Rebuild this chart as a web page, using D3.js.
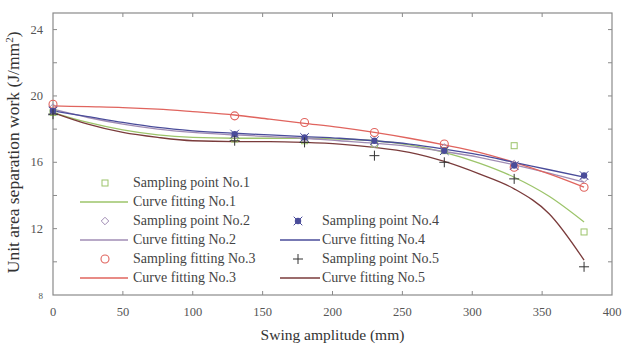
<!DOCTYPE html>
<html>
<head>
<meta charset="utf-8">
<script src="https://cdn.jsdelivr.net/npm/d3@7"></script>
<style>
  body { margin: 0; background: #fff; }
  svg { font-family: "Liberation Serif", "Times New Roman", serif; }
  .frame { fill: none; stroke: #8a8a8a; stroke-width: 1.2; }
  .tick-lbl { fill: #555; font-size: 12.5px; }
  .title { fill: #333; font-size: 15.5px; }
  .leg { fill: #444; font-size: 14px; }
</style>
</head>
<body>
<svg id="chart" width="623" height="347"></svg>
<script>
// measured amplitudes of the sampling points (mm)
var sampleX = [0, 130, 180, 230, 280, 330, 380];
var point1 = [19.0, 17.4, 17.3, 17.1, 16.7, 17.0, 11.8];
var point2 = [19.3, 17.6, 17.4, 17.1, 16.9, 15.9, 15.0];
var point3 = [19.5, 18.8, 18.4, 17.8, 17.1, 15.7, 14.5];
var point4 = [19.1, 17.7, 17.5, 17.3, 16.7, 15.8, 15.2];
var point5 = [18.9, 17.3, 17.2, 16.4, 16.0, 15.0, 9.7];

// fitted curves
var fitX = [0, 25, 50, 75, 100, 130, 155, 180, 205, 230, 255, 280, 305, 330, 355, 380];
var fit1 = [19.0, 18.4, 17.95, 17.65, 17.5, 17.45, 17.45, 17.45, 17.4, 17.3, 17.05, 16.6, 15.95, 15.1, 13.95, 12.4];
var fit2 = [19.2, 18.7, 18.3, 18.0, 17.8, 17.65, 17.55, 17.45, 17.3, 17.15, 16.95, 16.65, 16.3, 15.85, 15.35, 14.8];
var fit3 = [19.4, 19.35, 19.3, 19.2, 19.05, 18.85, 18.6, 18.35, 18.1, 17.8, 17.45, 17.05, 16.6, 16.0, 15.3, 14.5];
var fit4 = [19.1, 18.75, 18.4, 18.1, 17.9, 17.75, 17.65, 17.55, 17.45, 17.3, 17.1, 16.8, 16.45, 16.0, 15.55, 15.1];
var fit5 = [19.0, 18.3, 17.8, 17.5, 17.3, 17.25, 17.25, 17.2, 17.1, 16.9, 16.6, 16.05, 15.3, 14.4, 12.9, 10.1];

var xTicks = [0, 50, 100, 150, 200, 250, 300, 350, 400];
var yTicks = [8, 12, 16, 20, 24];
var yMinor = [10, 14, 18, 22];

var series = [
  {pt: point1, fit: fit1, color: "#9cc46a", ptName: "Sampling point No.1", fitName: "Curve fitting No.1", sym: "square"},
  {pt: point2, fit: fit2, color: "#a08cb4", ptName: "Sampling point No.2", fitName: "Curve fitting No.2", sym: "diamond"},
  {pt: point3, fit: fit3, color: "#e0645e", ptName: "Sampling fitting No.3", fitName: "Curve fitting No.3", sym: "circle"},
  {pt: point4, fit: fit4, color: "#4a4c9a", ptName: "Sampling point No.4", fitName: "Curve fitting No.4", sym: "star"},
  {pt: point5, fit: fit5, color: "#7a3b3b", ptName: "Sampling point No.5", fitName: "Curve fitting No.5", sym: "plus"}
];

var svg = d3.select("#chart");
var margin = {top: 13, right: 11, bottom: 52, left: 53};
var W = 623, H = 347;

var x = d3.scaleLinear().domain([0, 400]).range([margin.left, W - margin.right]);
var y = d3.scaleLinear().domain([8, 25]).range([H - margin.bottom, margin.top]);

// inward ticks on all four sides
var tk = svg.append("g").attr("stroke", "#8a8a8a").attr("stroke-width", 1);
xTicks.slice(1, -1).forEach(function(v) {
  tk.append("line").attr("x1", x(v)).attr("x2", x(v)).attr("y1", y(8)).attr("y2", y(8) - 4);
  tk.append("line").attr("x1", x(v)).attr("x2", x(v)).attr("y1", y(25)).attr("y2", y(25) + 4);
});
yTicks.concat(yMinor).forEach(function(v) {
  if (v === 8) return;
  tk.append("line").attr("x1", x(0)).attr("x2", x(0) + 4).attr("y1", y(v)).attr("y2", y(v));
  tk.append("line").attr("x1", x(400)).attr("x2", x(400) - 4).attr("y1", y(v)).attr("y2", y(v));
});

svg.append("rect").attr("class", "frame")
  .attr("x", x(0)).attr("y", y(25))
  .attr("width", x(400) - x(0)).attr("height", y(8) - y(25));

// tick labels
svg.append("g").selectAll("text").data(xTicks).enter().append("text")
  .attr("class", "tick-lbl").attr("text-anchor", "middle")
  .attr("x", function(d) { return x(d); }).attr("y", y(8) + 21)
  .text(function(d) { return d; });
svg.append("g").selectAll("text").data(yTicks).enter().append("text")
  .attr("class", "tick-lbl").attr("text-anchor", "end")
  .attr("x", x(0) - 10).attr("y", function(d) { return y(d) + 4; })
  .style("font-size", function(d) { return d === 8 ? "9px" : null; })
  .text(function(d) { return d; });

// axis titles
svg.append("text").attr("class", "title").attr("text-anchor", "middle")
  .attr("x", x(200)).attr("y", 340).text("Swing amplitude (mm)");
var yt = svg.append("text").attr("class", "title").attr("text-anchor", "middle")
  .style("font-size", "17.5px")
  .attr("transform", "translate(19," + y(16.6) + ") rotate(-90)");
yt.append("tspan").text("Unit area separation work (J/mm");
yt.append("tspan").attr("dy", -6).style("font-size", "11px").text("2");
yt.append("tspan").attr("dy", 6).text(")");

// fitted curves
var line = d3.line()
  .x(function(d) { return x(d[0]); })
  .y(function(d) { return y(d[1]); })
  .curve(d3.curveMonotoneX);

series.forEach(function(s) {
  svg.append("path")
    .datum(fitX.map(function(v, i) { return [v, s.fit[i]]; }))
    .attr("d", line)
    .attr("fill", "none").attr("stroke", s.color).attr("stroke-width", 1.3);
});

// marker drawing
function marker(g, sym, color, cx, cy) {
  if (sym === "square") {
    g.append("rect").attr("x", cx - 3).attr("y", cy - 3).attr("width", 6).attr("height", 6)
      .attr("fill", "none").attr("stroke", color).attr("stroke-width", 1);
  } else if (sym === "diamond") {
    g.append("path").attr("d", d3.symbol(d3.symbolDiamond2, 36)()).attr("transform", "translate(" + cx + "," + cy + ")")
      .attr("fill", "none").attr("stroke", color).attr("stroke-width", 1);
  } else if (sym === "circle") {
    g.append("circle").attr("cx", cx).attr("cy", cy).attr("r", 4)
      .attr("fill", "none").attr("stroke", color).attr("stroke-width", 1.1);
  } else if (sym === "star") {
    g.append("circle").attr("cx", cx).attr("cy", cy).attr("r", 3.2).attr("fill", color);
    g.append("path").attr("d", d3.symbol(d3.symbolTimes, 50)()).attr("transform", "translate(" + cx + "," + cy + ")")
      .attr("stroke", color).attr("stroke-width", 1);
  } else if (sym === "plus") {
    g.append("path").attr("d", "M" + (cx - 5) + "," + cy + "H" + (cx + 5) + "M" + cx + "," + (cy - 5) + "V" + (cy + 5))
      .attr("fill", "none").attr("stroke", "#333").attr("stroke-width", 1);
  }
}

series.forEach(function(s) {
  var g = svg.append("g");
  sampleX.forEach(function(v, i) { marker(g, s.sym, s.color, x(v), y(s.pt[i])); });
});

// legend: two columns
var legPos = [
  {cx: 105, lx1: 80, lx2: 128, tx: 133, y0: 183},
  {cx: 105, lx1: 80, lx2: 128, tx: 133, y0: 221},
  {cx: 105, lx1: 80, lx2: 128, tx: 133, y0: 259},
  {cx: 298, lx1: 280, lx2: 320, tx: 322, y0: 221},
  {cx: 298, lx1: 280, lx2: 320, tx: 322, y0: 259}
];
var leg = svg.append("g");
series.forEach(function(s, i) {
  var p = legPos[i];
  marker(leg, s.sym, s.color, p.cx, p.y0);
  leg.append("text").attr("class", "leg").attr("x", p.tx).attr("y", p.y0 + 4).text(s.ptName);
  leg.append("line").attr("x1", p.lx1).attr("x2", p.lx2).attr("y1", p.y0 + 19).attr("y2", p.y0 + 19)
    .attr("stroke", s.color).attr("stroke-width", 1.3);
  leg.append("text").attr("class", "leg").attr("x", p.tx).attr("y", p.y0 + 23).text(s.fitName);
});
</script>
</body>
</html>
